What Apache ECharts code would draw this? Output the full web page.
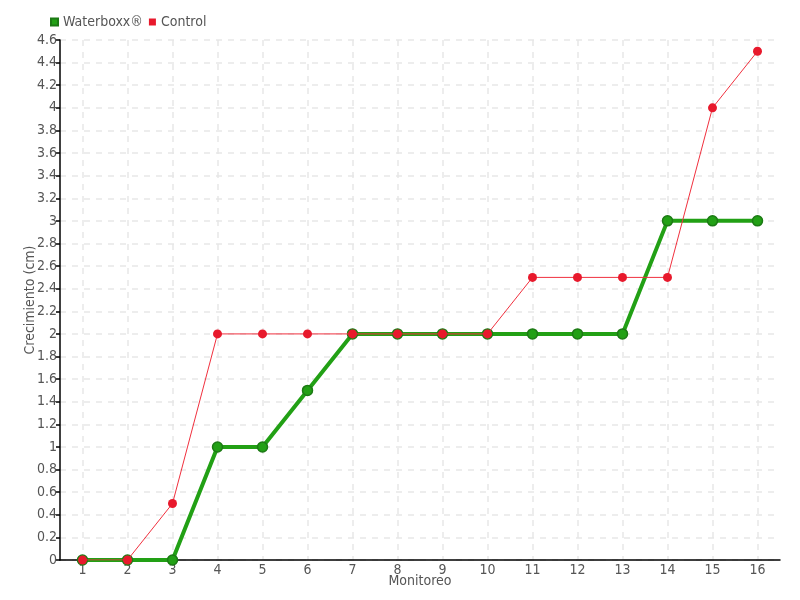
<!DOCTYPE html>
<html><head><meta charset="utf-8">
<script src="https://cdn.jsdelivr.net/npm/echarts@6/dist/echarts.min.js"></script>
<style>html,body{margin:0;padding:0;background:#fff}#c{width:800px;height:600px}</style>
</head><body><div id="c"></div>
<script>
var categories = ['1','2','3','4','5','6','7','8','9','10','11','12','13','14','15','16'];
var waterboxx = [0,0,0,1,1,1.5,2,2,2,2,2,2,2,3,3,3];
var control = [0,0,0.5,2,2,2,2,2,2,2,2.5,2.5,2.5,2.5,4,4.5];
var FONT = '"DejaVu Sans Condensed","Liberation Sans Narrow","DejaVu Sans",sans-serif';
var chart = echarts.init(document.getElementById('c'));
chart.setOption({
  animation:false,
  textStyle:{fontFamily:FONT},
  legend:{left:45,top:10,itemWidth:7,itemHeight:7,itemGap:6,icon:'rect',
    textStyle:{color:'#555',fontSize:14,fontFamily:FONT},
    data:['Waterboxx®','Control']},
  grid:{left:60,right:20,top:40,bottom:40,containLabel:false,outerBoundsMode:'none'},
  xAxis:{type:'category',data:categories,boundaryGap:true,
    name:'Monitoreo',nameLocation:'middle',nameGap:14,nameMoveOverlap:false,
    nameTextStyle:{color:'#555',fontSize:14,fontFamily:FONT},
    axisLine:{lineStyle:{color:'#000',width:1.5}},
    axisTick:{show:false,alignWithLabel:true},
    axisLabel:{color:'#555',fontSize:14,margin:3,fontFamily:FONT},
    splitLine:{show:true,alignWithLabel:true,lineStyle:{color:'#e8e8e8',type:[6,6],width:1.5}}},
  yAxis:{type:'value',min:0,max:4.6,interval:0.2,
    name:'Crecimiento (cm)',nameLocation:'middle',nameGap:23,nameMoveOverlap:false,
    nameTextStyle:{color:'#555',fontSize:14,fontFamily:FONT},
    axisLine:{show:true,lineStyle:{color:'#000',width:1.5}},
    axisTick:{show:true,length:4,lineStyle:{color:'#000',width:1.5}},
    axisLabel:{color:'#555',fontSize:14,margin:3,fontFamily:FONT,formatter:function(v){return String(+v.toFixed(1));}},
    splitLine:{show:true,lineStyle:{color:'#e8e8e8',type:[6,6],width:1.5}}},
  series:[
    {name:'Waterboxx®',type:'line',data:waterboxx,symbol:'circle',symbolSize:10,
      itemStyle:{color:'#22a015',borderColor:'#1c7a14',borderWidth:1.5},
      lineStyle:{color:'#22a015',width:4},z:2},
    {name:'Control',type:'line',data:control,symbol:'circle',symbolSize:9,
      itemStyle:{color:'#e8192c',borderColor:'#e8192c',borderWidth:0},
      lineStyle:{color:'#f0303e',width:1},z:3}
  ]
});
</script></body></html>
